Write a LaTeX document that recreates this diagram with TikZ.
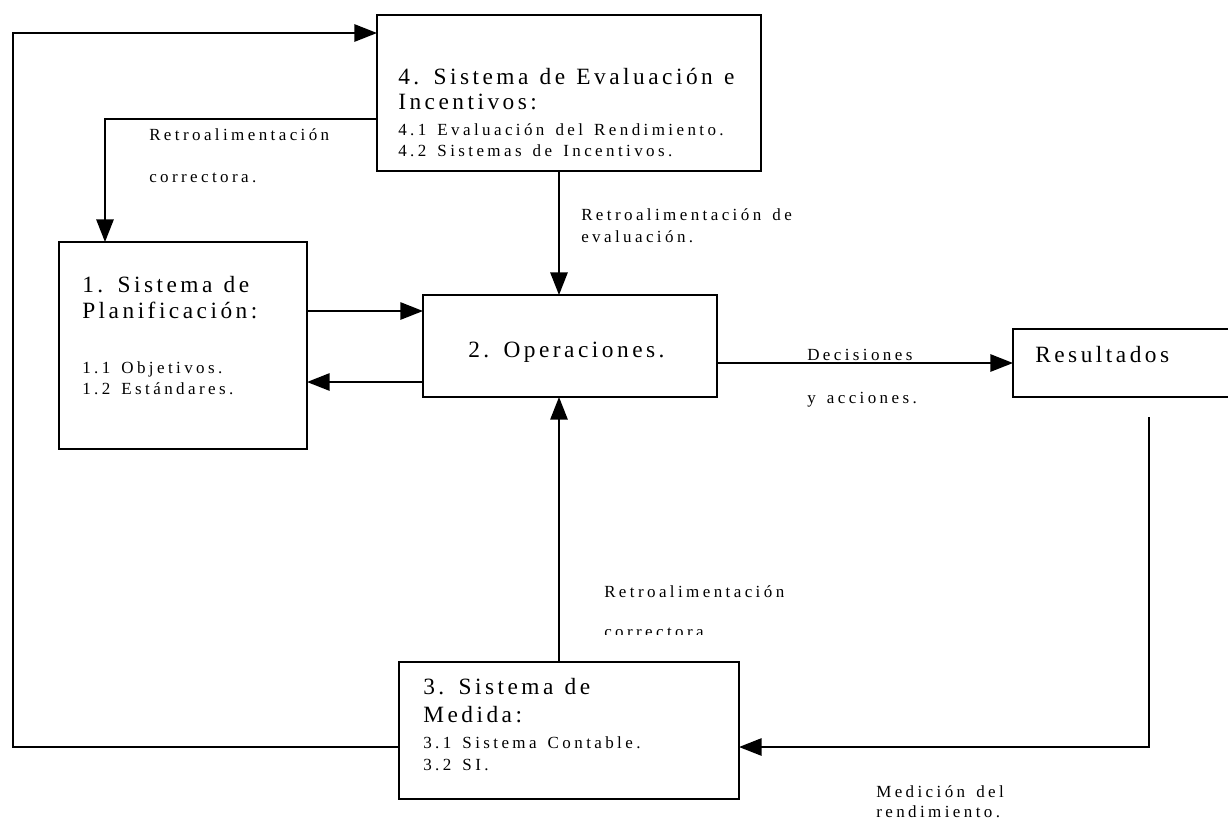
\documentclass[tikz,border=0pt]{standalone}
\usepackage{fontspec}
\setmainfont{Liberation Serif}
\usetikzlibrary{arrows.meta}
% spaced-out type for box titles and for the smaller lines and labels
\newfontfamily\titlefont[LetterSpace=15, WordSpace=1.2]{Liberation Serif}
\newfontfamily\itemfont[LetterSpace=20, WordSpace=1.45]{Liberation Serif}
\newcommand{\ttl}{\titlefont\fontsize{17.5}{20}\selectfont}
\newcommand{\itm}{\itemfont\fontsize{12.75}{15}\selectfont}
\newlength\px
\setlength\px{0.75pt}
\tikzset{
  blk/.style={draw, line width=1.4pt, inner sep=0pt, outer sep=0pt},
  big/.style={anchor=base west, inner sep=0pt, font=\ttl},
  small/.style={anchor=base west, inner sep=0pt, font=\itm},
  arr/.style={line width=1.4pt, -{Triangle[length=17pt,width=13pt]}},
}
\begin{document}
\begin{tikzpicture}[x=0.75pt, y=-0.75pt]
\useasboundingbox (0,0) rectangle (1228,819);
\begin{scope}
\clip (0,0) rectangle (1228,819);

% boxes
\node[blk, minimum width=384\px, minimum height=156\px] (eval) at (569,93) {};
\node[blk, minimum width=248\px, minimum height=207\px] (plan) at (183,345.5) {};
\node[blk, minimum width=294\px, minimum height=102\px] (oper) at (570,346) {};
\node[blk, minimum width=240\px, minimum height=68\px] (res) at (1133,363) {};
\node[blk, minimum width=340\px, minimum height=137\px] (med) at (569,730.5) {};

% box texts
\node[big] (t4a) at (398,84) {4. Sistema de Evaluación e};
\node[big] (t4b) at (398,109) {Incentivos:};
\node[small] (t4c) at (398,135) {4.1 Evaluación del Rendimiento.};
\node[small] (t4d) at (398,156) {4.2 Sistemas de Incentivos.};

\node[big] (t1a) at (82,292) {1. Sistema de};
\node[big] (t1b) at (82,318) {Planificación:};
\node[small] (t1c) at (82,373) {1.1 Objetivos.};
\node[small] (t1d) at (82,394) {1.2 Estándares.};

\node[big] (t2) at (468,357) {2. Operaciones.};
\node[big] (tr) at (1035,362) {Resultados};

\node[big] (t3a) at (423,694) {3. Sistema de};
\node[big] (t3b) at (423,722) {Medida:};
\node[small] (t3c) at (423,748) {3.1 Sistema Contable.};
\node[small] (t3d) at (423,770) {3.2 SI.};

% connector labels
\node[small] (l1a) at (149,140) {Retroalimentación};
\node[small] (l1b) at (149,182) {correctora.};
\node[small] (l2a) at (581,220) {Retroalimentación de};
\node[small] (l2b) at (581,242) {evaluación.};
\node[small] (l3a) at (807,360) {Decisiones};
\node[small] (l3b) at (807,403) {y acciones.};
\node[small] (l4a) at (604,597) {Retroalimentación};
\begin{scope}
\clip (590,600) rectangle (800,634);
\node[small] (l4b) at (604,637) {correctora};
\end{scope}
\node[small] (l5a) at (876,797) {Medición del};
\node[small] (l5b) at (876,817) {rendimiento.};

% connectors
\draw[arr] (plan.east |- 0,311) -- (oper.west |- 0,311);
\draw[arr] (oper.west |- 0,382) -- (plan.east |- 0,382);
\draw[arr] (oper.east |- res.west) -- (res.west);
\draw[arr] (eval.south -| 559,0) -- (oper.north -| 559,0);
\draw[arr] (med.north -| 559,0) -- (oper.south -| 559,0);
\draw[arr] (eval.west |- 0,119) -| (plan.north -| 105,0);
\coordinate (loopL) at (13,747);
\draw[arr] (med.west |- loopL) -- (loopL) |- (eval.west |- 0,33);
\coordinate (resout) at (1149,417);
\draw[arr] (resout) |- (med.east |- 0,747);
\end{scope}
\end{tikzpicture}
\end{document}
